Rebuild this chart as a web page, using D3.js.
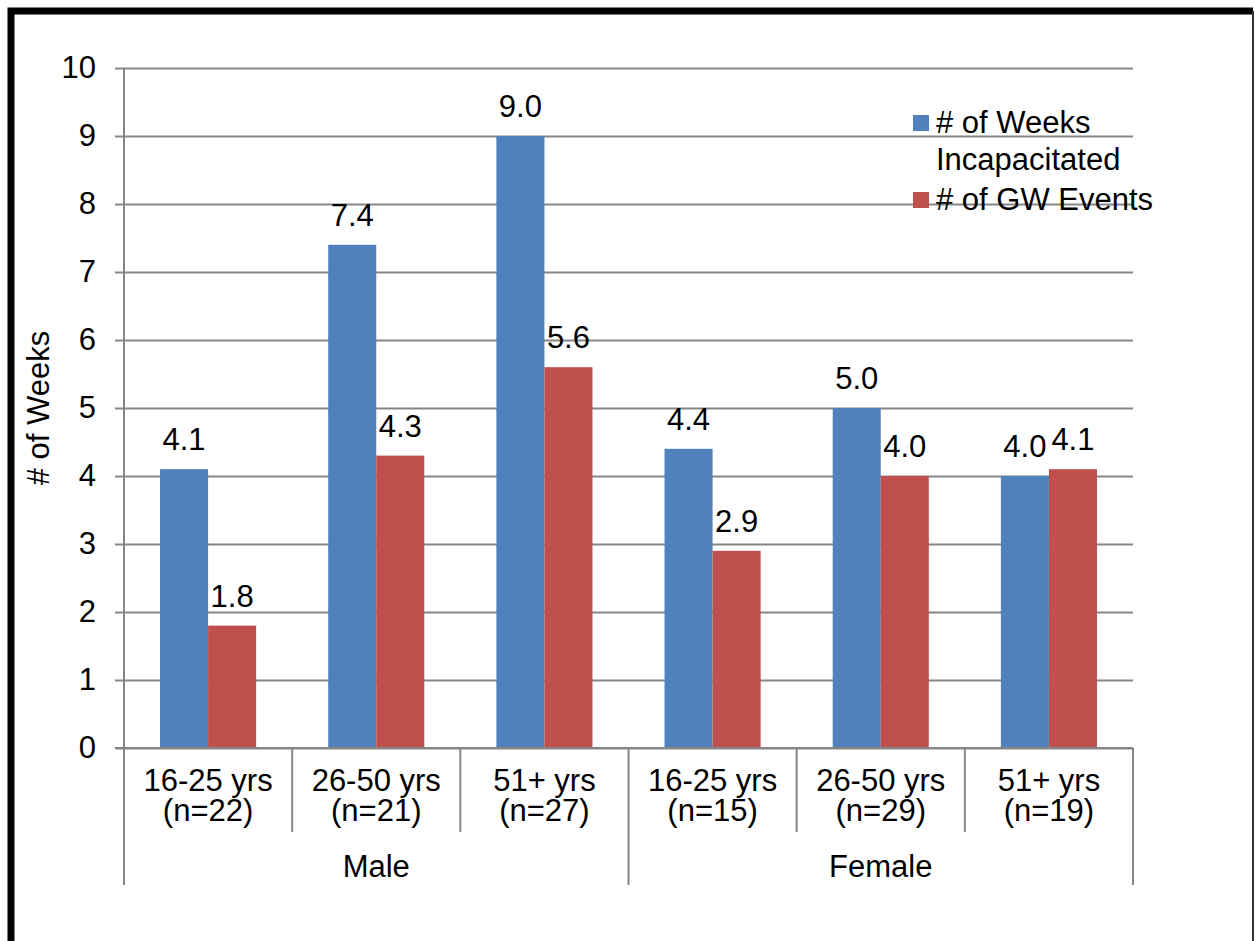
<!DOCTYPE html>
<html>
<head>
<meta charset="utf-8">
<script src="https://cdn.jsdelivr.net/npm/d3@7"></script>
<style>
  html, body { margin: 0; padding: 0; background: #fff; }
  svg text { font-family: Arial, "Liberation Sans", sans-serif; fill: #000; }
</style>
</head>
<body>
<svg id="chart" width="1255" height="941"></svg>
<script>
// data
const groups = ["Male", "Female"];
const ageBands = ["16-25 yrs", "26-50 yrs", "51+ yrs", "16-25 yrs", "26-50 yrs", "51+ yrs"];
const sampleSizes = ["(n=22)", "(n=21)", "(n=27)", "(n=15)", "(n=29)", "(n=19)"];
const seriesNames = ["# of Weeks Incapacitated", "# of GW Events"];
const weeksIncapacitated = [4.1, 7.4, 9.0, 4.4, 5.0, 4.0];
const gwEvents = [1.8, 4.3, 5.6, 2.9, 4.0, 4.1];
const yTicks = [0, 1, 2, 3, 4, 5, 6, 7, 8, 9, 10];

const colors = ["#4F81BD", "#C0504D"];
const gridColor = "#868686";
const fontSize = 31;

const svg = d3.select("#chart");

// frame round the chart
svg.append("path")
    .attr("d", "M11,941 L11,11 L1253,11")
    .attr("fill", "none").attr("stroke", "#000").attr("stroke-width", 7);
svg.append("line")
    .attr("x1", 1253).attr("x2", 1253).attr("y1", 11).attr("y2", 941)
    .attr("stroke", "#333").attr("stroke-width", 2);

const plotL = 124, plotR = 1133, plotT = 68, plotB = 748;

const y = d3.scaleLinear().domain([0, 10]).range([plotB, plotT]);
const cats = d3.range(ageBands.length);
const x0 = d3.scaleBand().domain(cats).range([plotL, plotR]);
const x1 = d3.scaleBand().domain([0, 1]).range([0, x0.bandwidth()]).paddingOuter(0.75);

// y axis with gridlines
const yAxis = svg.append("g")
    .attr("transform", `translate(${plotL},0)`)
    .call(d3.axisLeft(y).tickValues(yTicks).tickSizeInner(-(plotR - plotL)).tickSizeOuter(0).tickPadding(28));
yAxis.select(".domain").remove();
yAxis.selectAll(".tick line")
    .attr("x1", -9)
    .attr("stroke", gridColor).attr("stroke-width", 2);
yAxis.selectAll(".tick text")
    .attr("font-size", fontSize)
    .attr("font-family", "Arial, 'Liberation Sans', sans-serif")
    .attr("fill", "#000");

svg.append("line")
    .attr("x1", plotL).attr("x2", plotL).attr("y1", plotT).attr("y2", plotB)
    .attr("stroke", gridColor).attr("stroke-width", 2);

// bars
const rows = cats.map(i => ({ i, vals: [weeksIncapacitated[i], gwEvents[i]] }));
const barG = svg.append("g").selectAll("g")
    .data(rows).join("g")
    .attr("transform", d => `translate(${x0(d.i)},0)`);

barG.selectAll("rect")
    .data(d => d.vals.map((v, s) => ({ v, s })))
    .join("rect")
    .attr("x", d => x1(d.s))
    .attr("width", x1.bandwidth())
    .attr("y", d => y(d.v))
    .attr("height", d => y(0) - y(d.v))
    .attr("fill", d => colors[d.s]);

barG.selectAll("text.val")
    .data(d => d.vals.map((v, s) => ({ v, s })))
    .join("text")
    .attr("class", "val")
    .attr("x", d => x1(d.s) + x1.bandwidth() / 2)
    .attr("y", d => y(d.v) - 19)
    .attr("text-anchor", "middle")
    .attr("font-size", fontSize)
    .text(d => d.v.toFixed(1));

// x axis line
svg.append("line")
    .attr("x1", plotL - 9).attr("x2", plotR).attr("y1", plotB).attr("y2", plotB)
    .attr("stroke", gridColor).attr("stroke-width", 2);

// category separators: inner short, group boundaries long
const bounds = d3.range(ageBands.length + 1).map(k => plotL + k * x0.step());
svg.append("g").selectAll("line")
    .data(bounds).join("line")
    .attr("x1", d => d).attr("x2", d => d)
    .attr("y1", plotB)
    .attr("y2", (d, k) => (k % 3 === 0 ? 885 : 832))
    .attr("stroke", gridColor).attr("stroke-width", 2);

const catLabels = svg.append("g").selectAll("text")
    .data(cats).join("text")
    .attr("text-anchor", "middle")
    .attr("font-size", fontSize)
    .attr("transform", i => `translate(${x0(i) + x0.bandwidth() / 2},0)`);
catLabels.append("tspan").attr("x", 0).attr("y", 791).text(i => ageBands[i]);
catLabels.append("tspan").attr("x", 0).attr("y", 821).text(i => sampleSizes[i]);

svg.append("g").selectAll("text")
    .data(groups).join("text")
    .attr("x", (g, k) => (bounds[k * 3] + bounds[k * 3 + 3]) / 2)
    .attr("y", 877)
    .attr("text-anchor", "middle")
    .attr("font-size", fontSize)
    .text(d => d);

// y axis title
svg.append("text")
    .attr("transform", `translate(49,${(plotT + plotB) / 2}) rotate(-90)`)
    .attr("text-anchor", "middle")
    .attr("font-size", fontSize)
    .text("# of Weeks");

// legend
const legendLines = [["# of Weeks", "Incapacitated"], ["# of GW Events"]];
const legendY = [133, 210];
const legend = svg.append("g").selectAll("g")
    .data(legendLines).join("g");
legend.append("rect")
    .attr("x", 913).attr("y", (d, k) => legendY[k] - 18)
    .attr("width", 16).attr("height", 16)
    .attr("fill", (d, k) => colors[k]);
legend.append("text")
    .attr("font-size", fontSize)
    .selectAll("tspan")
    .data((d, k) => d.map((t, j) => ({ t, j, k })))
    .join("tspan")
    .attr("x", 936)
    .attr("y", d => legendY[d.k] + d.j * 37)
    .text(d => d.t);
</script>
</body>
</html>
